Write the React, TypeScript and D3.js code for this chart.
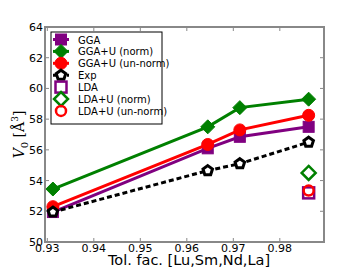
import * as d3 from "d3";
import { useEffect, useRef } from "react";

// tolerance factors for Lu, Sm, Nd, La
const tolFac = [0.9312, 0.9645, 0.9714, 0.9862];
const gga = [51.95, 56.1, 56.85, 57.5];
const ggaUNorm = [53.45, 57.5, 58.75, 59.3];
const ggaUUnNorm = [52.3, 56.35, 57.3, 58.25];
const expV = [51.95, 54.65, 55.1, 56.5];
// LDA results only for La
const ldaX = [0.9862];
const lda = [53.2];
const ldaUNorm = [54.5];
const ldaUUnNorm = [53.35];

const xTicks = [0.93, 0.94, 0.95, 0.96, 0.97, 0.98];
const yTicks = [50, 52, 54, 56, 58, 60, 62, 64];

const legendLabels = [
  "GGA",
  "GGA+U (norm)",
  "GGA+U (un-norm)",
  "Exp",
  "LDA",
  "LDA+U (norm)",
  "LDA+U (un-norm)",
];

const App = () => {
  const ref = useRef<SVGSVGElement>(null);

  useEffect(() => {
    const svg = d3.select(ref.current);
    svg.selectAll("*").remove();

    const left = 45, right = 324, top = 27, bottom = 242;
    const x = d3.scaleLinear().domain([0.9295, 0.9895]).range([left, right]);
    const y = d3.scaleLinear().domain([50, 64]).range([bottom, top]);
    const font = "DejaVu Sans, sans-serif";
    const spine = "#888";

    svg.append("rect").attr("width", 360).attr("height", 270).attr("fill", "#fff");

    // ticks on all sides, pointing in
    const tk = svg.append("g").attr("stroke", spine).attr("stroke-width", 1);
    xTicks.forEach((t) => {
      tk.append("line").attr("x1", x(t)).attr("x2", x(t)).attr("y1", bottom).attr("y2", bottom - 4);
      tk.append("line").attr("x1", x(t)).attr("x2", x(t)).attr("y1", top).attr("y2", top + 4);
    });
    yTicks.forEach((t) => {
      tk.append("line").attr("x1", left).attr("x2", left + 4).attr("y1", y(t)).attr("y2", y(t));
      tk.append("line").attr("x1", right).attr("x2", right - 4).attr("y1", y(t)).attr("y2", y(t));
    });

    svg.append("g").selectAll("text").data(xTicks).join("text")
      .attr("x", (d) => x(d)).attr("y", 252)
      .attr("text-anchor", "middle").attr("font-family", font).attr("font-size", 11)
      .text((d) => d.toFixed(2));
    svg.append("g").selectAll("text").data(yTicks).join("text")
      .attr("x", left - 2).attr("y", (d) => y(d) + 4)
      .attr("text-anchor", "end").attr("font-family", font).attr("font-size", 11)
      .text((d) => d);

    svg.append("text").attr("x", 189).attr("y", 265).attr("text-anchor", "middle")
      .attr("font-family", font).attr("font-size", 14.5).text("Tol. fac. [Lu,Sm,Nd,La]");

    const yl = svg.append("text").attr("transform", `translate(24,${(top + bottom) / 2}) rotate(-90)`)
      .attr("text-anchor", "middle").attr("font-family", "DejaVu Serif, serif").attr("font-size", 14);
    yl.append("tspan").attr("font-style", "italic").text("V");
    yl.append("tspan").attr("font-size", 10).attr("dy", 4).text("0");
    yl.append("tspan").attr("dy", -4).text(" [Å");
    yl.append("tspan").attr("font-size", 9).attr("dy", -6).text("3");
    yl.append("tspan").attr("dy", 6).text("]");

    const plot = svg.append("g");
    const line = d3.line<[number, number]>().x((d) => x(d[0])).y((d) => y(d[1]));

    const marker = (g: any, kind: string, cx: number, cy: number, color: string, filled: boolean) => {
      const fill = filled ? color : "none";
      if (kind === "square") {
        g.append("rect").attr("x", cx - 5.5).attr("y", cy - 5.5).attr("width", 11).attr("height", 11)
          .attr("fill", fill).attr("stroke", color).attr("stroke-width", filled ? 1 : 2.5);
      } else if (kind === "diamond") {
        const r = 7;
        g.append("path").attr("d", `M${cx},${cy - r}L${cx + r},${cy}L${cx},${cy + r}L${cx - r},${cy}Z`)
          .attr("fill", fill).attr("stroke", color).attr("stroke-width", filled ? 1 : 2.5);
      } else if (kind === "circle") {
        g.append("circle").attr("cx", cx).attr("cy", cy).attr("r", filled ? 6 : 5)
          .attr("fill", fill).attr("stroke", color).attr("stroke-width", filled ? 1 : 2.5);
      } else {
        const pts = d3.range(5).map((i) => {
          const a = -Math.PI / 2 + (i * 2 * Math.PI) / 5;
          return [cx + 5 * Math.cos(a), cy + 5 * Math.sin(a)];
        });
        g.append("path").attr("d", "M" + pts.join("L") + "Z")
          .attr("fill", "#fff").attr("stroke", "#000").attr("stroke-width", 3);
      }
    };

    const series = [
      { v: gga, color: "#800080", kind: "square", dash: null },
      { v: ggaUNorm, color: "#008000", kind: "diamond", dash: null },
      { v: ggaUUnNorm, color: "#ff0000", kind: "circle", dash: null },
      { v: expV, color: "#000", kind: "pentagon", dash: "5,3" },
    ];
    series.forEach((s) => {
      const pts = tolFac.map((t, i) => [t, s.v[i]] as [number, number]);
      plot.append("path").attr("d", line(pts)).attr("fill", "none")
        .attr("stroke", s.color).attr("stroke-width", 3)
        .attr("stroke-dasharray", s.dash);
      pts.forEach((p) => marker(plot, s.kind, x(p[0]), y(p[1]), s.color, true));
    });

    ldaX.forEach((t, i) => {
      marker(plot, "square", x(t), y(lda[i]), "#800080", false);
      marker(plot, "diamond", x(t), y(ldaUNorm[i]), "#008000", false);
      marker(plot, "circle", x(t), y(ldaUUnNorm[i]), "#ff0000", false);
    });

    // frame
    svg.append("rect").attr("x", left).attr("y", top).attr("width", right - left).attr("height", bottom - top)
      .attr("fill", "none").attr("stroke", spine).attr("stroke-width", 2);

    // legend
    const lg = svg.append("g");
    lg.append("rect").attr("x", 51).attr("y", 32).attr("width", 111).attr("height", 92)
      .attr("fill", "#fff").attr("stroke", "#000").attr("stroke-width", 1);
    const legendItems = [
      { color: "#800080", kind: "square", filled: true, ln: true, dash: null },
      { color: "#008000", kind: "diamond", filled: true, ln: true, dash: null },
      { color: "#ff0000", kind: "circle", filled: true, ln: true, dash: null },
      { color: "#000", kind: "pentagon", filled: true, ln: true, dash: "4,3" },
      { color: "#800080", kind: "square", filled: false, ln: false, dash: null },
      { color: "#008000", kind: "diamond", filled: false, ln: false, dash: null },
      { color: "#ff0000", kind: "circle", filled: false, ln: false, dash: null },
    ];
    legendItems.forEach((it, i) => {
      const ly = 39.5 + i * 11.9;
      if (it.ln) {
        lg.append("line").attr("x1", 53).attr("x2", 69).attr("y1", ly).attr("y2", ly)
          .attr("stroke", it.color).attr("stroke-width", 3).attr("stroke-dasharray", it.dash);
      }
      marker(lg, it.kind, 61, ly, it.color, it.filled);
      lg.append("text").attr("x", 78).attr("y", ly + 4).attr("font-family", font).attr("font-size", 10)
        .text(legendLabels[i]);
    });
  }, []);

  return <svg width={360} height={270} ref={ref} style={{ position: "absolute", left: 0, top: 0 }} />;
};

export default App;
